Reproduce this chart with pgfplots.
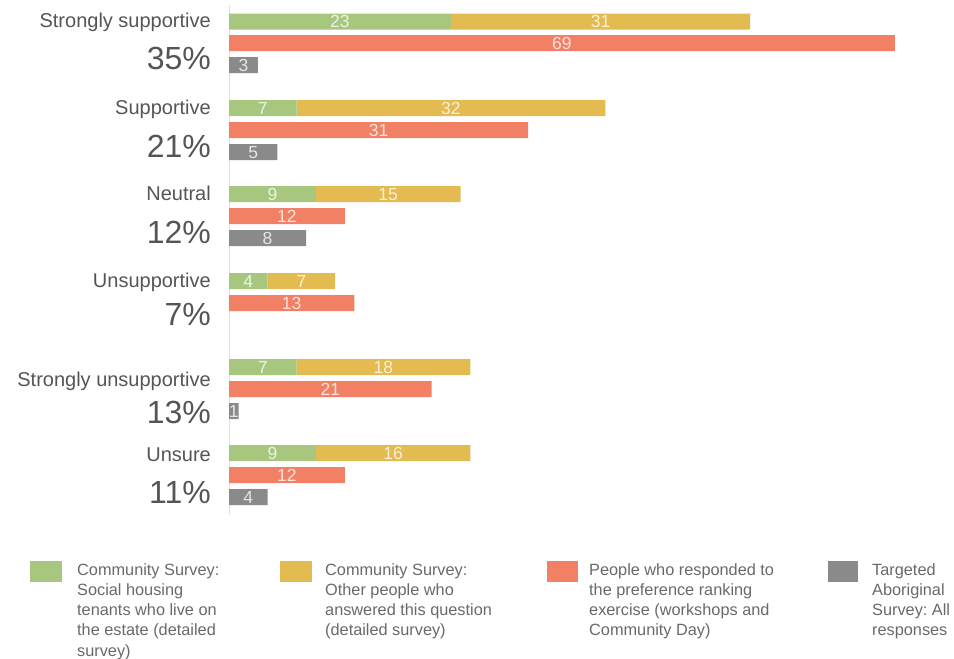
\documentclass[border=0pt]{standalone}
\usepackage{pgfplots}
\pgfplotsset{compat=1.18}
\usepackage{fontspec}
\setmainfont{Liberation Sans}
\definecolor{cgreen}{RGB}{168,199,126}
\definecolor{cyellow}{RGB}{228,187,80}
\definecolor{cred}{RGB}{242,128,100}
\definecolor{cgray}{RGB}{138,138,138}
\definecolor{labtxt}{RGB}{85,85,85}
\definecolor{legtxt}{RGB}{105,105,105}
\newcommand{\vl}[3]{\node[anchor=base,inner sep=0pt,text=white,text opacity=0.78,font=\fontsize{17.5}{18}\selectfont] at (axis cs:#1,#2) [yshift=-6.3pt] {#3};}
\begin{document}
\begin{tikzpicture}
\path[use as bounding box] (0pt,0pt) rectangle (954pt,-659pt);
\pgfplotsset{base/.style={at={(229pt,-5pt)}, anchor=north west, scale only axis,
  width=694.8pt, height=510pt, xmin=0, xmax=72, ymin=-515, ymax=-5,
  xtick=\empty, ytick=\empty, bar width=16pt, clip=false}}
% stacked community survey bars
\begin{axis}[base, xbar stacked, axis x line=none, axis y line*=left,
  y axis line style={draw=black!12, line width=0.8pt}]
\addplot[fill=cgreen, draw=none] coordinates {(23,-21.5) (7,-108) (9,-194) (4,-281) (7,-367) (9,-453)};
\addplot[fill=cyellow, draw=none] coordinates {(31,-21.5) (32,-108) (15,-194) (7,-281) (18,-367) (16,-453)};
\end{axis}
% single bars
\begin{axis}[base, xbar, axis lines=none]
\addplot[xbar, bar shift=0pt, fill=cred, draw=none] coordinates {(69,-43) (31,-130) (12,-216) (13,-303) (21,-389) (12,-475)};
\addplot[xbar, bar shift=0pt, fill=cgray, draw=none] coordinates {(3,-65) (5,-152) (8,-238) (1,-411) (4,-497)};
% value labels
\vl{11.5}{-21.5}{23}\vl{38.5}{-21.5}{31}\vl{34.5}{-43}{69}\vl{1.5}{-65}{3}
\vl{3.5}{-108}{7}\vl{23}{-108}{32}\vl{15.5}{-130}{31}\vl{2.5}{-152}{5}
\vl{4.5}{-194}{9}\vl{16.5}{-194}{15}\vl{6}{-216}{12}\vl{4}{-238}{8}
\vl{2}{-281}{4}\vl{7.5}{-281}{7}\vl{6.5}{-303}{13}
\vl{3.5}{-367}{7}\vl{16}{-367}{18}\vl{10.5}{-389}{21}\vl{0.5}{-411}{1}
\vl{4.5}{-453}{9}\vl{17}{-453}{16}\vl{6}{-475}{12}\vl{2}{-497}{4}
\end{axis}
% category labels
\begin{scope}[every node/.style={anchor=base east, inner sep=0pt, text=labtxt}]
\foreach \y/\t in {27/Strongly supportive, 114/Supportive, 200/Neutral, 287/Unsupportive, 386/Strongly unsupportive, 461/Unsure}
  \node[font=\fontsize{20}{22}\selectfont] at (211pt,-\y pt) {\t};
\foreach \y/\t in {69/35\%, 157/21\%, 243/12\%, 325/7\%, 423/13\%, 503/11\%}
  \node[font=\fontsize{32}{34}\selectfont] at (211pt,-\y pt) {\t};
\end{scope}
% legend
\begin{scope}[every node/.style={anchor=north west, inner sep=0pt, align=left, text=legtxt, font=\fontsize{16.3}{20.3}\selectfont}]
\fill[cgreen] (30pt,-561pt) rectangle (62pt,-582pt);
\node at (77pt,-563pt) {Community Survey:\\Social housing\\tenants who live on\\the estate (detailed\\survey)};
\fill[cyellow] (280pt,-561pt) rectangle (312pt,-582pt);
\node at (325pt,-563pt) {Community Survey:\\Other people who\\answered this question\\(detailed survey)};
\fill[cred] (547pt,-561pt) rectangle (578pt,-582pt);
\node at (589pt,-563pt) {People who responded to\\the preference ranking\\exercise (workshops and\\Community Day)};
\fill[cgray] (828pt,-561pt) rectangle (858pt,-582pt);
\node at (872pt,-563pt) {Targeted\\Aboriginal\\Survey:~All\\responses};
\end{scope}
\end{tikzpicture}
\end{document}
